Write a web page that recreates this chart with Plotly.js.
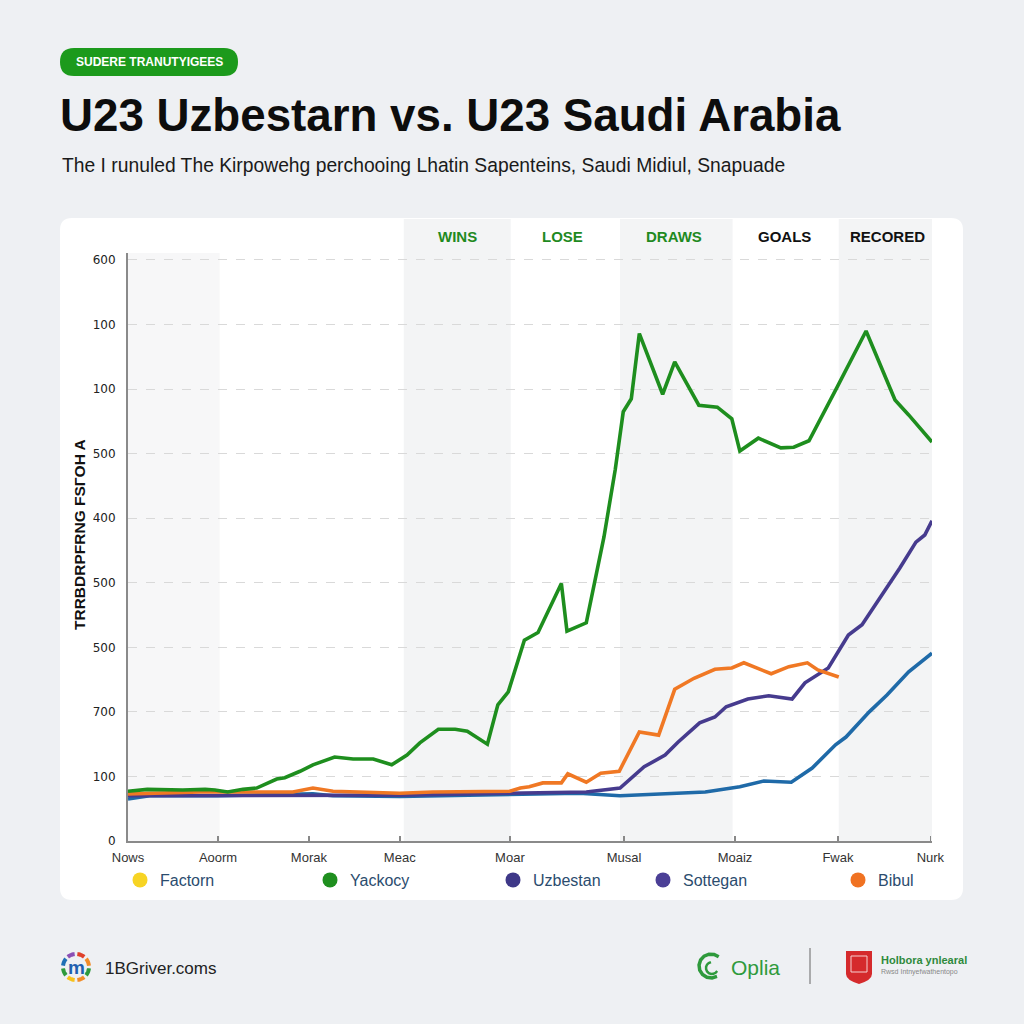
<!DOCTYPE html>
<html><head><meta charset="utf-8">
<script src="https://cdn.plot.ly/plotly-3.0.1.min.js"></script>
<style>html,body{margin:0;padding:0;background:#eef0f3;} #chart{width:1024px;height:1024px;}</style>
</head><body><div id="chart"></div>
<script>
// ---------- DATA ----------
const xTickVals = [0, 11.2, 22.5, 33.8, 47.5, 61.7, 75.5, 88.3, 99.8];
const xTickText = ["Nows", "Aoorm", "Morak", "Meac", "Moar", "Musal", "Moaiz", "Fwak", "Nurk"];
const yTickVals = [0, 100, 200, 300, 400, 500, 600, 700, 800, 900];
const yTickText = ["0", "100", "700", "500", "500", "400", "500", "100", "100", "600"];

const greenX = [0, 2.4, 6.8, 9.6, 10.8, 12.4, 14.3, 16.0, 18.5, 19.5, 21.4, 23.0, 25.7, 28.0, 30.5, 32.8, 34.7, 36.3, 38.6, 40.7, 42.2, 44.7, 46.0, 47.3, 49.3, 51.0, 53.9, 54.6, 57.0, 59.2, 60.6, 61.6, 62.6, 63.6, 66.5, 68.0, 71.0, 73.3, 75.1, 76.1, 78.4, 81.2, 82.8, 84.7, 88.2, 91.8, 95.4, 97.1, 100];
const greenY = [77, 80, 79, 80, 79, 76, 80, 82, 96, 98, 108, 118, 130, 127, 127, 118, 133, 152, 173, 173, 170, 150, 211, 231, 311, 323, 399, 325, 338, 471, 575, 665, 685, 786, 692, 742, 675, 672, 654, 604, 624, 609, 610, 620, 703, 790, 683, 660, 618];

const orangeX = [0, 2.4, 9.0, 20.5, 23.0, 25.5, 28.9, 33.8, 37.9, 47.5, 48.8, 49.9, 51.6, 53.9, 54.7, 57.0, 58.8, 61.1, 63.6, 66.0, 68.0, 70.4, 73.0, 75.1, 76.6, 80.0, 82.2, 84.5, 85.8, 88.4];
const orangeY = [73, 74, 76, 76, 82, 77, 76, 74, 76, 77, 82, 84, 90, 90, 104, 91, 105, 108, 169, 164, 235, 252, 266, 268, 276, 259, 270, 276, 265, 254];

const purpleX = [0, 33.8, 57.0, 61.2, 64.2, 66.8, 68.4, 71.1, 73.0, 74.4, 77.1, 79.7, 82.6, 84.2, 87.1, 89.6, 91.3, 96.0, 98.0, 99.1, 100];
const purpleY = [70, 71, 76, 82, 115, 133, 153, 183, 192, 208, 220, 225, 220, 245, 268, 319, 335, 423, 463, 474, 496];

const blueX = [0, 2.7, 11.1, 23.0, 25.5, 33.8, 56.1, 61.2, 71.8, 76.1, 79.1, 82.5, 85.1, 88.0, 89.3, 92.2, 94.4, 97.1, 100];
const blueY = [65, 70, 70, 73, 70, 69, 74, 70, 76, 84, 93, 91, 113, 149, 161, 200, 226, 262, 291];

const legendNames = ["Factorn", "Yackocy", "Uzbestan", "Sottegan", "Bibul"];
const legendColors = ["#f7d424", "#1f8f1f", "#3e3888", "#4b3f96", "#f07222"];

const headerLabels = ["WINS", "LOSE", "DRAWS", "GOALS", "RECORED"];
const headerCenters = [41.0, 54.1, 67.9, 81.7, 94.5];
const headerColors = ["#1f8a1f", "#1f8a1f", "#1f8a1f", "#111111", "#111111"];

// ---------- LAYOUT HELPERS ----------
const L = 128, R = 932, T = 253, B = 841;
const PW = R - L, PH = B - T;
const px = x => (x - L) / PW;
const py = y => (B - y) / PH;
const pt = (x, y) => px(x).toFixed(5) + ',' + py(y).toFixed(5);
function roundRect(x0, y0, x1, y1, r) {
  return 'M' + pt(x0 + r, y0) + ' L' + pt(x1 - r, y0) + ' Q' + pt(x1, y0) + ' ' + pt(x1, y0 + r) +
    ' L' + pt(x1, y1 - r) + ' Q' + pt(x1, y1) + ' ' + pt(x1 - r, y1) +
    ' L' + pt(x0 + r, y1) + ' Q' + pt(x0, y1) + ' ' + pt(x0, y1 - r) +
    ' L' + pt(x0, y0 + r) + ' Q' + pt(x0, y0) + ' ' + pt(x0 + r, y0) + ' Z';
}
function arc(cx, cy, r, a0, a1) {
  let s = '';
  const n = 10;
  for (let i = 0; i <= n; i++) {
    const a = (a0 + (a1 - a0) * i / n) * Math.PI / 180;
    s += (i === 0 ? 'M' : ' L') + pt(cx + r * Math.cos(a), cy - r * Math.sin(a));
  }
  return s;
}

const shapes = [];
// card
shapes.push({type: 'path', xref: 'paper', yref: 'paper', path: roundRect(60, 218, 963, 900, 12),
  fillcolor: '#ffffff', line: {width: 0}, layer: 'below'});
// pill
shapes.push({type: 'path', xref: 'paper', yref: 'paper', path: roundRect(60, 48, 238, 76, 14),
  fillcolor: '#1c9a1c', line: {width: 0}, layer: 'below'});
// bands
shapes.push({type: 'rect', xref: 'x', yref: 'paper', x0: 0, x1: 11.4, y0: 0, y1: 1,
  fillcolor: '#f7f7f8', line: {width: 0}, layer: 'below'});
[[34.3, 47.6], [61.2, 75.2], [88.4, 100.2]].forEach(b => {
  shapes.push({type: 'rect', xref: 'x', yref: 'paper', x0: b[0], x1: b[1], y0: 0, y1: py(219),
    fillcolor: '#f3f4f5', line: {width: 0}, layer: 'below'});
});
// logo ring
const ringCols = ['#f28c28', '#e0412b', '#8a4fb5', '#1f6fb5', '#2e9a3c', '#f6c21c', '#f28c28', '#2e9a3c'];
ringCols.forEach((c, i) => {
  shapes.push({type: 'path', xref: 'paper', yref: 'paper', path: arc(76, 967, 13, i * 45 + 6, i * 45 + 39),
    line: {color: c, width: 4}});
});
// Oplia icon
shapes.push({type: 'path', xref: 'paper', yref: 'paper', path: arc(711, 966, 12, 50, 300),
  line: {color: '#2e9a3c', width: 3.5}});
shapes.push({type: 'path', xref: 'paper', yref: 'paper', path: arc(712, 968, 6, 100, 330),
  line: {color: '#2e9a3c', width: 2.5}});
// separator
shapes.push({type: 'line', xref: 'paper', yref: 'paper', x0: px(810), x1: px(810), y0: py(948), y1: py(984),
  line: {color: '#666', width: 1}});
// shield
shapes.push({type: 'path', xref: 'paper', yref: 'paper',
  path: 'M' + pt(846, 951) + ' L' + pt(872, 951) + ' L' + pt(872, 974) + ' Q' + pt(872, 980) + ' ' + pt(859, 984) +
    ' Q' + pt(846, 980) + ' ' + pt(846, 974) + ' Z',
  fillcolor: '#d52a2c', line: {width: 0}});
shapes.push({type: 'rect', xref: 'paper', yref: 'paper', x0: px(851), x1: px(867), y0: py(972), y1: py(956),
  fillcolor: 'rgba(0,0,0,0)', line: {color: '#f6d0d0', width: 1}});

// ---------- TRACES ----------
const lineW = 3.6;
const traces = [
  {x: blueX, y: blueY, name: 'Sottegan', mode: 'lines', line: {color: '#1f6aa8', width: lineW}, showlegend: false, hoverinfo: 'skip'},
  {x: purpleX, y: purpleY, name: 'Uzbestan', mode: 'lines', line: {color: '#463b8e', width: lineW}, showlegend: false, hoverinfo: 'skip'},
  {x: orangeX, y: orangeY, name: 'Bibul', mode: 'lines', line: {color: '#f07824', width: lineW}, showlegend: false, hoverinfo: 'skip'},
  {x: greenX, y: greenY, name: 'Yackocy', mode: 'lines', line: {color: '#1e8e1e', width: lineW}, showlegend: false, hoverinfo: 'skip'}
];
const legendMarkerPx = [140, 330, 513, 663, 858];
const legendIds = ['legend', 'legend2', 'legend3', 'legend4', 'legend5'];
legendNames.forEach((n, i) => {
  traces.push({x: [null], y: [null], name: n, mode: 'markers', type: 'scatter', legend: legendIds[i],
    marker: {color: legendColors[i], size: 15, symbol: 'circle'}, showlegend: true});
});

// ---------- ANNOTATIONS ----------
const annotations = [];
const A = (x, y, text, font, extra) => Object.assign({xref: 'paper', yref: 'paper', x: px(x), y: py(y), text: text,
  showarrow: false, xanchor: 'center', yanchor: 'middle', font: font}, extra || {});
headerLabels.forEach((h, i) => {
  annotations.push({xref: 'x', yref: 'paper', x: headerCenters[i], y: py(237), xanchor: 'center', yanchor: 'middle',
    text: '<b>' + h + '</b>', showarrow: false,
    font: {family: 'Liberation Sans, Arial, sans-serif', size: 15, color: headerColors[i]}});
});
annotations.push(A(149, 62, '<b>SUDERE TRANUTYIGEES</b>', {family: 'Liberation Sans, Arial, sans-serif', size: 12, color: '#ffffff'}));
annotations.push(A(60, 165, 'The I runuled The Kirpowehg perchooing Lhatin Sapenteins, Saudi Midiul, Snapuade',
  {family: 'Liberation Sans, Arial, sans-serif', size: 19.3, color: '#1a1a1a'}, {xanchor: 'left'}));
annotations.push(A(79, 535, '<b>TRRBDRPFRNG FSГOH A</b>', {family: 'Liberation Sans, Arial, sans-serif', size: 15.5, color: '#111'},
  {textangle: -90}));
annotations.push({xref: 'x', yref: 'y', x: 100.6, y: 0, ax: -10, ay: 0, text: '',
  showarrow: true, arrowhead: 2, arrowsize: 1, arrowwidth: 2, arrowcolor: '#888'});
// footer
annotations.push(A(76, 967, '<b>m</b>', {family: 'Liberation Sans, Arial, sans-serif', size: 19, color: '#1f5fb0'}));
annotations.push(A(103, 968, '1BGriver.coms', {family: 'Liberation Sans, Arial, sans-serif', size: 17, color: '#222'}, {xanchor: 'left'}));
annotations.push(A(729, 967, 'Oplia', {family: 'Liberation Sans, Arial, sans-serif', size: 21, color: '#2e9a3c'}, {xanchor: 'left'}));
annotations.push(A(879, 960, '<b>Holbora ynlearal</b>', {family: 'Liberation Sans, Arial, sans-serif', size: 11, color: '#2e8a3c'}, {xanchor: 'left'}));
annotations.push(A(879, 972, 'Rwsd Intnyefwathentopo', {family: 'Liberation Sans, Arial, sans-serif', size: 7, color: '#888'}, {xanchor: 'left'}));

const layout = {
  width: 1024, height: 1024,
  margin: {l: L, r: 1024 - R, t: T, b: 1024 - B, pad: 0},
  paper_bgcolor: '#eef0f3', plot_bgcolor: 'rgba(0,0,0,0)',
  title: {text: '<b>U23 Uzbestarn vs. U23 Saudi Arabia</b>', x: 60 / 1024, xanchor: 'left', xref: 'container',
    y: 1 - 115 / 1024, yanchor: 'middle', yref: 'container',
    font: {family: 'Liberation Sans, Arial, sans-serif', size: 45.7, color: '#0d0d0d'}},
  xaxis: {range: [0, 100], tickvals: xTickVals, ticktext: xTickText, showgrid: false, zeroline: false,
    showline: true, linecolor: '#8a8a8a', linewidth: 2, ticks: 'inside', ticklen: 5, tickcolor: '#888', tickwidth: 1.5,
    ticklabelstandoff: 3,
    tickfont: {family: 'Liberation Sans, Arial, sans-serif', size: 13, color: '#333'}, fixedrange: true},
  yaxis: {range: [0, 910.8], tickvals: yTickVals, ticktext: yTickText, showgrid: true, gridcolor: '#d9d9d9',
    griddash: 'dash', gridwidth: 1, zeroline: false, showline: true, linecolor: '#8a8a8a', linewidth: 2,
    ticks: '', ticklabelstandoff: 8,
    tickfont: {family: 'DejaVu Sans, sans-serif', size: 12, color: '#222'}, fixedrange: true},
  shapes: shapes, annotations: annotations, showlegend: true
};
legendIds.forEach((id, i) => {
  layout[id] = {orientation: 'h', x: px(legendMarkerPx[i] - 20), xanchor: 'left', y: py(880), yanchor: 'middle',
    itemwidth: 30, bgcolor: 'rgba(0,0,0,0)',
    font: {family: 'Liberation Sans, Arial, sans-serif', size: 16, color: '#2b4c6e'}};
});

Plotly.newPlot('chart', traces, layout, {displayModeBar: false, staticPlot: true});
</script></body></html>
